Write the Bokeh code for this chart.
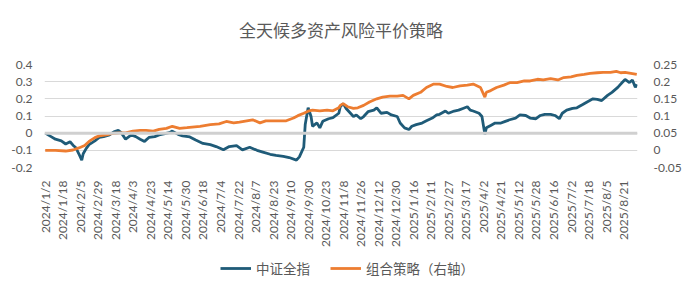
import math
from bokeh.plotting import figure
from bokeh.layouts import column
from bokeh.models import Range1d, LinearAxis, FixedTicker, Span, Legend, LegendItem, Label
from bokeh.embed import file_html
from bokeh.resources import INLINE

# ---------------- data ----------------
title_text = "全天候多资产风险平价策略"
series_names = ["中证全指", "组合策略（右轴）"]

date_labels = ["2024/1/2", "2024/1/18", "2024/2/5", "2024/2/29", "2024/3/18", "2024/4/3",
               "2024/4/23", "2024/5/14", "2024/5/30", "2024/6/18", "2024/7/4", "2024/7/22",
               "2024/8/7", "2024/8/23", "2024/9/10", "2024/9/30", "2024/10/23", "2024/11/8",
               "2024/11/26", "2024/12/12", "2024/12/30", "2025/1/16", "2025/2/11", "2025/2/27",
               "2025/3/17", "2025/4/2", "2025/4/21", "2025/5/12", "2025/5/28", "2025/6/16",
               "2025/7/2", "2025/7/18", "2025/8/5", "2025/8/21"]
label_step = 12          # trading days between labels
n_days = 406             # trading days shown

# 中证全指 (left axis) : trading-day index, value
csi_idx = [0, 4, 7, 11, 14, 17, 19, 21, 23, 25, 26, 28, 30, 34, 37, 40, 44, 47, 50, 52,
           55, 59, 62, 65, 68, 71, 75, 78, 82, 85, 87, 91, 94, 99, 103, 108, 113, 117, 122, 126,
           131, 135, 140, 145, 149, 154, 158, 163, 167, 172, 174, 177, 178, 180, 182, 183, 186, 188, 190, 194,
           197, 201, 202, 204, 206, 209, 211, 213, 216, 218, 221, 225, 227, 230, 234, 237, 241, 243, 246, 249,
           251, 254, 258, 261, 265, 268, 270, 274, 276, 280, 283, 286, 289, 291, 293, 297, 299, 301, 302, 305,
           308, 312, 315, 318, 322, 325, 329, 332, 336, 339, 342, 346, 349, 352, 354, 357, 361, 364, 368, 371,
           375, 378, 381, 385, 388, 392, 395, 397, 400, 402, 404, 405]
csi_val = [0.0, -0.02, -0.035, -0.045, -0.063, -0.05, -0.07, -0.085, -0.12, -0.157, -0.12, -0.09, -0.067, -0.045, -0.025, -0.02, -0.01, 0.008, 0.016, 0.003,
           -0.035, -0.01, -0.02, -0.035, -0.048, -0.025, -0.02, -0.01, -0.003, 0.003, 0.012, -0.007, -0.016, -0.022, -0.04, -0.06, -0.067, -0.078, -0.097, -0.078,
           -0.073, -0.097, -0.082, -0.1, -0.11, -0.123, -0.13, -0.135, -0.142, -0.157, -0.138, -0.082, 0.05, 0.148, 0.097, 0.04, 0.06, 0.031, 0.069, 0.084,
           0.09, 0.116, 0.154, 0.172, 0.144, 0.116, 0.097, 0.106, 0.084, 0.097, 0.125, 0.134, 0.148, 0.116, 0.121, 0.106, 0.097, 0.059, 0.031, 0.021,
           0.04, 0.05, 0.059, 0.072, 0.088, 0.106, 0.11, 0.129, 0.116, 0.129, 0.134, 0.144, 0.154, 0.134, 0.129, 0.116, 0.097, -0.007, 0.031, 0.045,
           0.059, 0.059, 0.069, 0.078, 0.088, 0.106, 0.103, 0.088, 0.084, 0.103, 0.11, 0.11, 0.103, 0.084, 0.116, 0.134, 0.144, 0.148, 0.167, 0.182,
           0.2, 0.197, 0.19, 0.22, 0.238, 0.267, 0.295, 0.313, 0.295, 0.31, 0.267, 0.285]

# 组合策略 (right axis) : trading-day index, value
port_idx = [0, 7, 14, 19, 23, 27, 30, 34, 37, 42, 46, 51, 55, 60, 65, 69, 74, 78, 83, 87,
            92, 97, 106, 113, 119, 124, 129, 133, 138, 142, 147, 151, 156, 161, 165, 170, 173, 177, 180, 183,
            188, 193, 197, 201, 202, 204, 207, 211, 214, 218, 222, 227, 231, 236, 241, 245, 249, 252, 257, 261,
            266, 270, 275, 279, 284, 289, 293, 298, 301, 302, 305, 309, 314, 318, 323, 328, 332, 337, 341, 346,
            351, 355, 360, 364, 369, 373, 378, 382, 387, 391, 394, 397, 401, 405]
port_val = [0.0, 0.0, -0.002, 0.001, 0.007, 0.014, 0.026, 0.037, 0.042, 0.045, 0.049, 0.051, 0.051, 0.056, 0.058, 0.058, 0.056, 0.061, 0.064, 0.07,
            0.064, 0.066, 0.07, 0.075, 0.077, 0.084, 0.08, 0.082, 0.086, 0.089, 0.08, 0.086, 0.086, 0.086, 0.086, 0.094, 0.101, 0.108, 0.114, 0.117,
            0.115, 0.117, 0.115, 0.124, 0.131, 0.136, 0.127, 0.122, 0.124, 0.131, 0.141, 0.15, 0.155, 0.158, 0.158, 0.16, 0.15, 0.16, 0.169, 0.183,
            0.193, 0.193, 0.186, 0.183, 0.188, 0.19, 0.193, 0.183, 0.155, 0.169, 0.174, 0.183, 0.19, 0.197, 0.197, 0.202, 0.202, 0.207, 0.205, 0.209,
            0.205, 0.212, 0.214, 0.218, 0.221, 0.224, 0.226, 0.227, 0.227, 0.23, 0.226, 0.227, 0.224, 0.221]

left_ticks = [-0.2, -0.1, 0, 0.1, 0.2, 0.3, 0.4]
left_tick_labels = ["-0.2", "-0.1", "0", "0.1", "0.2", "0.3", "0.4"]
right_ticks = [-0.05, 0, 0.05, 0.1, 0.15, 0.2, 0.25]
right_tick_labels = ["-0.05", "0", "0.05", "0.1", "0.15", "0.2", "0.25"]

# ---------------- styles ----------------
BLUE = "#1f5b78"
ORANGE = "#ed7d31"
TXT = "#595959"
GRID = "#d9d9d9"
NUM_FONT = "Lato"
CJK_FONT = "Noto Sans CJK SC"
LW = 2.8
W = 687
HEAD_H, MAIN_H, LEG_H = 44, 206, 38

# ---------------- title strip ----------------
hd = figure(width=W, height=HEAD_H, output_backend="svg", toolbar_location=None,
            min_border=0, x_range=Range1d(0, W), y_range=Range1d(0, HEAD_H))
hd.outline_line_color = None
hd.axis.visible = False
hd.grid.visible = False
hd.add_layout(Label(x=W / 2, y=15, text=title_text, text_align="center", text_baseline="middle",
                    text_font=CJK_FONT, text_font_size="17px", text_color=TXT))

# ---------------- main chart ----------------
p = figure(width=W, height=MAIN_H, output_backend="svg", toolbar_location=None,
           x_range=Range1d(-0.5, n_days - 0.5), y_range=Range1d(left_ticks[0], left_ticks[-1]),
           min_border_left=44, min_border_right=50, min_border_top=20, min_border_bottom=79)
p.extra_y_ranges = {"right": Range1d(right_ticks[0], right_ticks[-1])}
p.outline_line_color = None
p.background_fill_color = "white"
p.border_fill_color = "white"

# left axis
ya = p.yaxis[0]
ya.ticker = FixedTicker(ticks=left_ticks)
ya.major_label_overrides = {t: s for t, s in zip(left_ticks, left_tick_labels)}
ya.axis_line_color = None
ya.major_tick_line_color = None
ya.minor_tick_line_color = None
ya.major_label_standoff = 6
ya.major_label_text_font = NUM_FONT
ya.major_label_text_font_size = "12px"
ya.major_label_text_color = TXT

# right axis
ra = LinearAxis(y_range_name="right")
ra.ticker = FixedTicker(ticks=right_ticks)
ra.major_label_overrides = {t: s for t, s in zip(right_ticks, right_tick_labels)}
ra.axis_line_color = None
ra.major_tick_line_color = None
ra.minor_tick_line_color = None
ra.major_label_standoff = 10
ra.major_label_text_font = NUM_FONT
ra.major_label_text_font_size = "12px"
ra.major_label_text_color = TXT
p.add_layout(ra, "right")

# x axis
xa = p.xaxis[0]
xt = [i * label_step for i in range(len(date_labels))]
xa.ticker = FixedTicker(ticks=xt)
xa.major_label_overrides = {t: s for t, s in zip(xt, date_labels)}
xa.major_label_orientation = math.pi / 2
xa.axis_line_color = None
xa.major_tick_line_color = None
xa.minor_tick_line_color = None
xa.major_label_standoff = 7
xa.major_label_text_font = NUM_FONT
xa.major_label_text_font_size = "12px"
xa.major_label_text_color = TXT

p.xgrid.grid_line_color = None
p.ygrid.grid_line_color = GRID
p.ygrid.grid_line_width = 1

p.add_layout(Span(location=0, dimension="width", line_color="#d0d0d0", line_width=3))

r1 = p.line(csi_idx, csi_val, line_color=BLUE, line_width=LW)
r2 = p.line(port_idx, port_val, line_color=ORANGE, line_width=LW, y_range_name="right")

# ---------------- legend strip ----------------
# the series are drawn here too, but the view range lies outside their data,
# so only the legend swatches are visible
lg = figure(width=W, height=LEG_H, output_backend="svg", toolbar_location=None,
            min_border=0, x_range=Range1d(-1000, -999), y_range=Range1d(0, 1))
lg.outline_line_color = None
lg.axis.visible = False
lg.grid.visible = False
l1 = lg.line(csi_idx, csi_val, line_color=BLUE, line_width=LW)
l2 = lg.line(port_idx, port_val, line_color=ORANGE, line_width=LW)
legend = Legend(items=[LegendItem(label=series_names[0], renderers=[l1]),
                       LegendItem(label=series_names[1], renderers=[l2])],
                orientation="horizontal", location=(176, 10),
                label_text_font=CJK_FONT, label_text_font_size="13.5px", label_text_color=TXT,
                glyph_width=31, glyph_height=14, label_standoff=5, spacing=20,
                border_line_color=None, background_fill_alpha=0, padding=0, margin=0)
lg.add_layout(legend, "center")

layout = column(hd, p, lg, spacing=0)
open("out.html", "w").write(file_html(layout, INLINE))
